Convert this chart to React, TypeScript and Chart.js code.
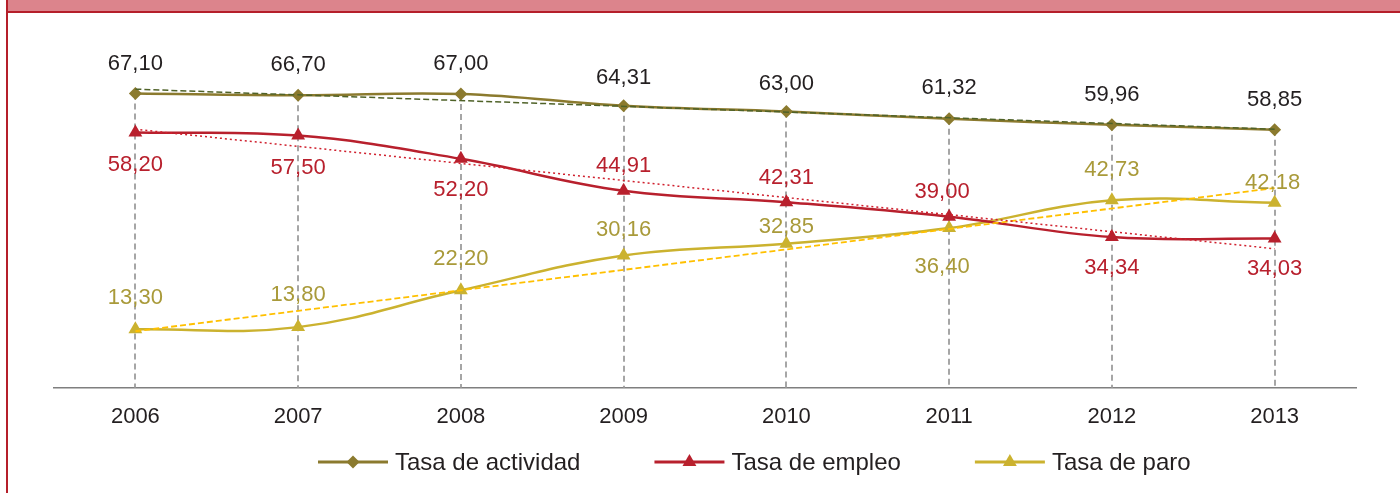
import { useEffect, useRef } from 'react';
import { Chart, registerables } from 'chart.js';

Chart.register(...registerables);

const categories = ['2006', '2007', '2008', '2009', '2010', '2011', '2012', '2013'];
const actividad = [67.1, 66.7, 67.0, 64.31, 63.0, 61.32, 59.96, 58.85];
const empleo = [58.2, 57.5, 52.2, 44.91, 42.31, 39.0, 34.34, 34.03];
const paro = [13.3, 13.8, 22.2, 30.16, 32.85, 36.4, 42.73, 42.18];
// trend lines (ends only)
const actividadTrend = [68.1, null, null, null, null, null, null, 58.96];
const empleoTrend = [58.94, null, null, null, null, null, null, 31.68];
const paroTrend = [12.86, null, null, null, null, null, null, 45.54];
const seriesNames = ['Tasa de actividad', 'Tasa de empleo', 'Tasa de paro'];

// label placement (style)
const actividadDy = [-30, -30, -30, -28, -28, -31, -30, -30];
const empleoDy = [32, 32, 31, -25, -24, -25, 31, 30];
const empleoDx = [0, 0, 0, 0, 0, -7, 0, 0];
const paroDy = [-31, -32, -31, -25, -17, 39, -30, -20];
const paroDx = [0, 0, 0, 0, 0, -7, 0, -2];

const C_ACT = '#8b7a2e';
const C_EMP = '#b8202d';
const C_PARO = '#cbb22f';
const FONT = '"Liberation Sans", Arial, sans-serif';

const fmt = (v: number) => v.toFixed(2).replace('.', ',');

function drawMarker(ctx: CanvasRenderingContext2D, style: string, x: number, y: number, r: number, color: string) {
  ctx.save();
  ctx.fillStyle = color;
  ctx.beginPath();
  if (style === 'rectRot') {
    ctx.moveTo(x - r, y);
    ctx.lineTo(x, y - r);
    ctx.lineTo(x + r, y);
    ctx.lineTo(x, y + r);
  } else {
    let a = 0;
    for (let k = 0; k < 3; k++) {
      const px = x + Math.sin(a) * r;
      const py = y - Math.cos(a) * r;
      if (k === 0) ctx.moveTo(px, py);
      else ctx.lineTo(px, py);
      a += (2 * Math.PI) / 3;
    }
  }
  ctx.closePath();
  ctx.fill();
  ctx.restore();
}

const dropLines = {
  id: 'dropLines',
  beforeDatasetsDraw(chart: any) {
    const { ctx, scales } = chart;
    const x = scales.x;
    const y = scales.y;
    ctx.save();
    ctx.strokeStyle = '#a6a6a6';
    ctx.lineWidth = 2;
    ctx.setLineDash([6, 4]);
    categories.forEach((_, i) => {
      const top = Math.max(actividad[i], empleo[i], paro[i]);
      const px = Math.round(x.getPixelForValue(i));
      ctx.beginPath();
      ctx.moveTo(px, y.getPixelForValue(top));
      ctx.lineTo(px, y.getPixelForValue(0));
      ctx.stroke();
    });
    ctx.restore();
  },
};

const labelsPlugin = {
  id: 'valueLabels',
  afterDatasetsDraw(chart: any) {
    const { ctx, scales } = chart;
    const x = scales.x;
    const y = scales.y;
    const groups = [
      { data: actividad, dy: actividadDy, dx: null as number[] | null, color: '#231f20' },
      { data: empleo, dy: empleoDy, dx: empleoDx, color: '#b8202d' },
      { data: paro, dy: paroDy, dx: paroDx, color: '#a99a3a' },
    ];
    ctx.save();
    ctx.font = `22px ${FONT}`;
    ctx.textAlign = 'center';
    ctx.textBaseline = 'middle';
    groups.forEach((g) => {
      ctx.fillStyle = g.color;
      g.data.forEach((v, i) => {
        const px = x.getPixelForValue(i) + (g.dx ? g.dx[i] : 0);
        const py = y.getPixelForValue(v) + g.dy[i];
        ctx.fillText(fmt(v), px, py);
      });
    });
    ctx.restore();
  },
};

const legendPlugin = {
  id: 'customLegend',
  afterDraw(chart: any) {
    const { ctx } = chart;
    const items = [
      { name: seriesNames[0], color: C_ACT, style: 'rectRot', r: 6.5 },
      { name: seriesNames[1], color: C_EMP, style: 'triangle', r: 8 },
      { name: seriesNames[2], color: C_PARO, style: 'triangle', r: 8 },
    ];
    const yc = 462;
    let cx = 318;
    ctx.save();
    ctx.font = `24px ${FONT}`;
    ctx.textBaseline = 'middle';
    items.forEach((it) => {
      ctx.strokeStyle = it.color;
      ctx.lineWidth = 3;
      ctx.beginPath();
      ctx.moveTo(cx, yc);
      ctx.lineTo(cx + 70, yc);
      ctx.stroke();
      drawMarker(ctx, it.style, cx + 35, yc, it.r, it.color);
      ctx.fillStyle = '#231f20';
      ctx.fillText(it.name, cx + 77, yc + 1);
      const w = ctx.measureText(it.name).width;
      cx = cx + 77 + w + 74;
    });
    ctx.restore();
  },
};

export default function App() {
  const ref = useRef<HTMLCanvasElement | null>(null);

  useEffect(() => {
    if (!ref.current) return;
    const chart = new Chart(ref.current, {
      type: 'line',
      data: {
        labels: categories,
        datasets: [
          {
            label: 'trend actividad',
            data: actividadTrend,
            borderColor: '#4f6228',
            borderWidth: 1.5,
            borderDash: [6, 3],
            pointRadius: 0,
            spanGaps: true,
            tension: 0,
            order: 0,
          },
          {
            label: 'trend empleo',
            data: empleoTrend,
            borderColor: '#d0202e',
            borderWidth: 1.5,
            borderDash: [2, 3],
            pointRadius: 0,
            spanGaps: true,
            tension: 0,
            order: 0,
          },
          {
            label: 'trend paro',
            data: paroTrend,
            borderColor: '#ffc000',
            borderWidth: 1.8,
            borderDash: [6, 3],
            pointRadius: 0,
            spanGaps: true,
            tension: 0,
            order: 0,
          },
          {
            label: seriesNames[0],
            data: actividad,
            borderColor: C_ACT,
            backgroundColor: C_ACT,
            borderWidth: 2.5,
            pointStyle: 'rectRot',
            pointRadius: 6.5,
            pointBorderWidth: 0,
            tension: 0.4,
            order: 1,
          },
          {
            label: seriesNames[1],
            data: empleo,
            borderColor: C_EMP,
            backgroundColor: C_EMP,
            borderWidth: 2.5,
            pointStyle: 'triangle',
            pointRadius: 8,
            pointBorderWidth: 0,
            tension: 0.4,
            order: 1,
          },
          {
            label: seriesNames[2],
            data: paro,
            borderColor: C_PARO,
            backgroundColor: C_PARO,
            borderWidth: 2.5,
            pointStyle: 'triangle',
            pointRadius: 8,
            pointBorderWidth: 0,
            tension: 0.4,
            order: 1,
          },
        ],
      },
      options: {
        animation: false,
        responsive: false,
        devicePixelRatio: 1,
        layout: { padding: { left: 54, right: 44, top: 37, bottom: 47 } },
        plugins: {
          legend: { display: false },
          tooltip: { enabled: false },
          title: { display: false },
        },
        scales: {
          x: {
            offset: true,
            grid: { display: false, drawTicks: false },
            border: { display: true, color: '#7f7f7f', width: 1.5 },
            ticks: {
              color: '#231f20',
              font: { size: 22, family: FONT },
              padding: 16,
              maxRotation: 0,
            },
          },
          y: {
            display: false,
            min: 0,
            max: 80,
          },
        },
      },
      plugins: [dropLines, labelsPlugin, legendPlugin],
    });
    return () => chart.destroy();
  }, []);

  return (
    <div
      style={{
        position: 'fixed',
        left: 0,
        top: 0,
        width: 1400,
        height: 493,
        background: '#ffffff',
        overflow: 'hidden',
      }}
    >
      <canvas ref={ref} width={1400} height={493} style={{ position: 'absolute', left: 0, top: 0 }} />
      <div
        style={{
          position: 'absolute',
          left: 8,
          top: 0,
          width: 1392,
          height: 11,
          background: '#dc848c',
          borderBottom: '2px solid #b51f2a',
        }}
      />
      <div style={{ position: 'absolute', left: 6, top: 0, width: 2, height: 493, background: '#b51f2a' }} />
    </div>
  );
}
